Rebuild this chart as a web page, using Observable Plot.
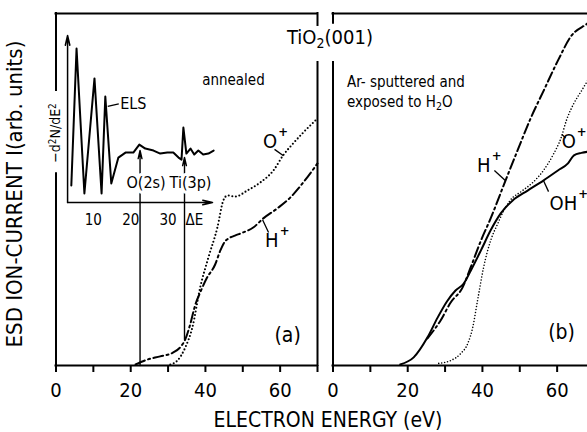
<!DOCTYPE html>
<html>
<head>
<meta charset="utf-8">
<script src="https://cdn.jsdelivr.net/npm/d3@7"></script>
<script src="https://cdn.jsdelivr.net/npm/@observablehq/plot@0.6"></script>
<style>
  html, body { margin: 0; padding: 0; background: #fff; }
  #fig {
    position: relative; width: 587px; height: 432px; overflow: hidden; background: #fff; color: #000;
    font-family: "Liberation Sans Narrow", "DejaVu Sans Condensed", "Roboto Condensed", sans-serif;
  }
  #fig svg { position: absolute; top: 0; }
  #fig svg [aria-label="x-axis tick"], #fig svg [aria-label="x-axis tick"] path,
  #fig svg [aria-label="x-axis"] line { stroke-width: 2px; }
  .lbl { position: absolute; white-space: nowrap; line-height: 1; }
  .lbl sub { font-size: 0.7em; vertical-align: -0.25em; line-height: 0; }
  .lbl sup { font-size: 0.7em; vertical-align: 0.45em; line-height: 0; }
</style>
</head>
<body>
<div id="fig"></div>
<script>
// ESD ion current vs. primary electron energy, TiO2(001)
// [energy (eV), current (arb. units)]
const oPlusAnnealed = [
  [30.6, 0.3], [32.5, 1.4], [34.6, 5.1], [36.5, 10.8], [38.6, 22.2], [40.8, 30.7],
  [43.2, 39.2], [44.8, 46.9], [45.9, 48.3], [48.0, 48.0], [51.2, 49.7], [54.7, 52.0],
  [58.2, 55.4], [60.8, 59.7], [63.5, 63.1], [66.2, 66.2], [70.0, 70.2]
];
const hPlusAnnealed = [
  [21.3, 0.3], [24.5, 1.7], [27.9, 2.6], [31.4, 3.7], [33.5, 5.5], [34.6, 7.4],
  [35.9, 11.6], [37.3, 17.3], [38.7, 21.0], [40.3, 24.7], [42.6, 28.7], [44.0, 32.7],
  [45.2, 35.2], [46.2, 36.1], [47.9, 36.9], [50.1, 37.8], [52.8, 39.2], [55.5, 41.8],
  [59.2, 44.6], [62.7, 47.7], [66.2, 52.0], [70.0, 57.4]
];
const ohPlusSputtered = [
  [18.0, 0.3], [21.6, 2.3], [25.3, 8.0], [28.0, 13.6], [30.5, 18.2], [32.8, 21.3],
  [35.0, 23.3], [36.9, 27.0], [39.6, 32.7], [42.2, 38.4], [44.9, 43.2], [48.1, 46.9],
  [52.1, 49.7], [56.4, 52.6], [60.2, 55.4], [62.9, 57.4], [64.5, 59.7], [66.5, 60.4],
  [70.0, 60.9]
];
const hPlusSputtered = [
  [25.3, 7.7], [28.8, 12.8], [31.5, 17.9], [34.7, 22.2], [36.9, 28.0], [39.6, 35.5],
  [42.2, 41.8], [46.2, 52.6], [49.4, 61.1], [52.9, 70.2], [56.4, 78.1], [60.2, 86.6],
  [63.7, 93.5], [68.5, 97.5], [70.0, 99.0]
];
const oPlusSputtered = [
  [28.3, 0.6], [31.5, 1.4], [34.2, 3.4], [36.1, 6.3], [37.4, 10.8], [38.7, 18.5],
  [40.3, 27.8], [42.2, 35.5], [44.1, 40.3], [45.7, 44.0], [47.5, 47.0], [50.5, 49.5],
  [53.5, 52.0], [56.4, 55.5], [59.0, 60.0], [61.0, 64.5], [62.6, 70.0], [64.5, 74.5],
  [66.5, 78.0], [68.5, 81.5], [70.0, 84.0]
];
// Inset: electron energy-loss spectrum, [energy loss ΔE (eV), -d²N/dE² (arb.)]
const elsSpectrum = [
  [4.1, 10.2], [5.5, 92.2], [7.6, 5.4], [10.3, 74.3], [12.2, 5.4], [13.2, 63.5],
  [14.8, 11.4], [16.7, 26.9], [18.6, 29.9], [20.7, 29.9], [22.3, 34.7], [23.9, 32.3],
  [26.1, 31.1], [27.9, 29.3], [29.8, 29.9], [31.4, 29.9], [32.8, 26.9], [33.6, 25.7],
  [34.1, 44.9], [34.9, 29.3], [36.0, 32.3], [37.0, 28.7], [38.1, 31.1], [39.4, 28.7],
  [40.8, 29.3], [42.2, 31.1]
];
// Core-level thresholds marked in the spectrum
const edgeNames = ["O(2s)", "Ti(3p)"];
const edgeEnergies = [22.5, 34.4];

const energyTicks = [0, 10, 20, 30, 40, 50, 60, 70];
const energyTickLabels = [0, 20, 40, 60];
const insetTicks = [10, 20, 30];

const ionsA = [
  {ion: "O", e: 59.2, i: 63.6, lead: [58.5, 61.4, 60.9, 59.6]},
  {ion: "H", e: 59.6, i: 35.5, lead: [55.3, 41.4, 56.9, 37.8]}
];
const ionsB = [
  {ion: "H", e: 42.2, i: 56.7, lead: [43.2, 55.4, 46.2, 52.5]},
  {ion: "O", e: 65.0, i: 63.5, lead: [61.3, 65.6, 62.3, 64.6]},
  {ion: "OH", e: 65.4, i: 46.0, lead: [56.3, 52.6, 57.7, 49.4]}
];

// ---- layout ----
const FONT = '"Liberation Sans Narrow", "DejaVu Sans Condensed", "Roboto Condensed", sans-serif';
const H = 432, TOP = 13, AXIS_Y = 365;
const common = {
  height: H, marginTop: TOP, marginBottom: H - AXIS_Y,
  y: {domain: [0, 100], axis: null},
  style: {fontFamily: FONT, fontSize: "20px", background: "transparent", overflow: "visible", color: "#000"}
};
const xAxis = {
  domain: [0, 70], ticks: energyTicks, tickSize: 7, tickPadding: 10, label: null,
  tickFormat: d => energyTickLabels.includes(d) ? String(d) : ""
};
const LW = 2;
const dotted = {strokeWidth: 2.1, strokeDasharray: "0 3.6", strokeLinecap: "round"};
const dottedFine = {strokeWidth: 1.6, strokeDasharray: "0 3", strokeLinecap: "round"};
const dashDot = {strokeWidth: 2, strokeDasharray: "10 3.5 2 3.5"};
const smooth = {x: d => d[0], y: d => d[1], curve: "monotone-x", stroke: "black"};
const frameLine = {stroke: "black", strokeWidth: LW, strokeLinecap: "square"};

function ionMarks(ions) {
  return [
    Plot.link(ions, {x1: d => d.lead[0], y1: d => d.lead[1], x2: d => d.lead[2], y2: d => d.lead[3], stroke: "black", strokeWidth: 1.3}),
    Plot.text(ions, {x: "e", y: "i", text: "ion", textAnchor: "end", fontSize: 20}),
    Plot.text(ions, {x: "e", y: "i", text: () => "+", textAnchor: "start", dx: 1, dy: -10, fontSize: 13, fontWeight: "bold"})
  ];
}

const fig = document.getElementById("fig");

// Panel (a): annealed surface
const tipO = 61.1, tipTi = 59.1, tiFoot = 7.4;
const panelA = Plot.plot({
  ...common, width: 325, marginLeft: 55.5, marginRight: 8,
  x: xAxis,
  marks: [
    Plot.ruleY([0], frameLine),
    Plot.ruleY([100], frameLine),
    Plot.ruleX([[0, 54.5], [78.1, 100]], {x: () => 0, y1: d => d[0], y2: d => d[1], ...frameLine}),
    Plot.ruleX([[0, 86.1], [96.6, 100]], {x: () => 70, y1: d => d[0], y2: d => d[1], ...frameLine}),
    Plot.arrow(edgeEnergies, {
      x1: d => d, x2: d => d, y1: (d, i) => i === 0 ? 0 : tiFoot, y2: (d, i) => i === 0 ? tipO : tipTi,
      stroke: "black", strokeWidth: 1.4, headLength: 9, headAngle: 26
    }),
    Plot.line(oPlusAnnealed, {...smooth, ...dotted}),
    Plot.line(hPlusAnnealed, {...smooth, ...dashDot}),
    ...ionMarks(ionsA),
    Plot.text(["annealed"], {x: () => 47.5, y: () => 81, text: d => d, fontSize: 15}),
    Plot.text(["(a)"], {x: () => 62.0, y: () => 8.5, text: d => d, fontSize: 21})
  ]
});
panelA.style.left = "0px";
fig.appendChild(panelA);

// Inset: ELS spectrum sharing the energy axis of panel (a)
const inset = Plot.plot({
  height: H, width: 325, marginLeft: 55.5, marginRight: 8, marginTop: 35, marginBottom: H - 202,
  x: {domain: [0, 70], axis: null},
  y: {domain: [0, 100], axis: null},
  style: common.style,
  marks: [
    Plot.arrow([[3.1, 0, 3.1, 100], [3.1, 0, 41.9, 0]], {
      x1: d => d[0], y1: d => d[1], x2: d => d[2], y2: d => d[3],
      stroke: "black", strokeWidth: 1.5, headLength: 10, headAngle: 26
    }),
    Plot.line(elsSpectrum, {x: d => d[0], y: d => d[1], stroke: "black", strokeWidth: 2, strokeLinejoin: "round"}),
    Plot.link([[13.85, 57.5, 16.8, 59.1]], {x1: d => d[0], y1: d => d[1], x2: d => d[2], y2: d => d[3], stroke: "black", strokeWidth: 1.3}),
    Plot.text(["ELS"], {x: () => 17.2, y: () => 59.0, text: d => d, textAnchor: "start", fontSize: 16}),
    Plot.text(edgeNames, {x: (d, i) => edgeEnergies[i], y: () => 12, text: d => d, dx: 6, fontSize: 16,
      stroke: "white", strokeWidth: 6, fill: "black"}),
    Plot.text(insetTicks, {x: d => d, y: () => 0, text: d => String(d), dy: 18, fontSize: 15}),
    Plot.text(["ΔE"], {x: () => edgeEnergies[1], y: () => 0, text: d => d, textAnchor: "start", dx: 1, dy: 18, fontSize: 15})
  ]
});
inset.style.left = "0px";
fig.appendChild(inset);

// Panel (b): Ar-sputtered surface exposed to H2O
const panelB = Plot.plot({
  ...common, width: 285, marginLeft: 7.5, marginRight: 16,
  x: xAxis,
  marks: [
    Plot.ruleY([0], frameLine),
    Plot.ruleY([100], frameLine),
    Plot.ruleX([[0, 86.1], [97.2, 100]], {x: () => 0, y1: d => d[0], y2: d => d[1], ...frameLine}),
    Plot.line(oPlusSputtered, {...smooth, ...dottedFine}),
    Plot.line(hPlusSputtered, {...smooth, ...dashDot}),
    Plot.line(ohPlusSputtered, {...smooth, strokeWidth: LW}),
    ...ionMarks(ionsB),
    Plot.text(["(b)"], {x: () => 61.2, y: () => 9.4, text: d => d, fontSize: 21})
  ]
});
panelB.style.left = "325px";
fig.appendChild(panelB);

// Titles and axis labels
function label(html, css) {
  const d = document.createElement("div");
  d.className = "lbl";
  d.innerHTML = html;
  Object.assign(d.style, css);
  fig.appendChild(d);
  return d;
}
label("TiO<sub>2</sub>(001)", {left: "287px", top: "27px", fontSize: "20px"});
label("Ar- sputtered and<br>exposed to H<sub>2</sub>O", {left: "347px", top: "72px", fontSize: "15px", lineHeight: "20px"});
label("ELECTRON ENERGY (eV)", {left: "328px", top: "410px", fontSize: "21px", transform: "translateX(-50%)"});
label("ESD ION-CURRENT I(arb. units)", {left: "15px", top: "194px", fontSize: "22px", transform: "translate(-50%, -50%) rotate(-90deg)"});
label("−d<sup>2</sup>N/dE<sup>2</sup>", {left: "55px", top: "133px", fontSize: "14px", transform: "translate(-50%, -50%) rotate(-90deg)"});
</script>
</body>
</html>
